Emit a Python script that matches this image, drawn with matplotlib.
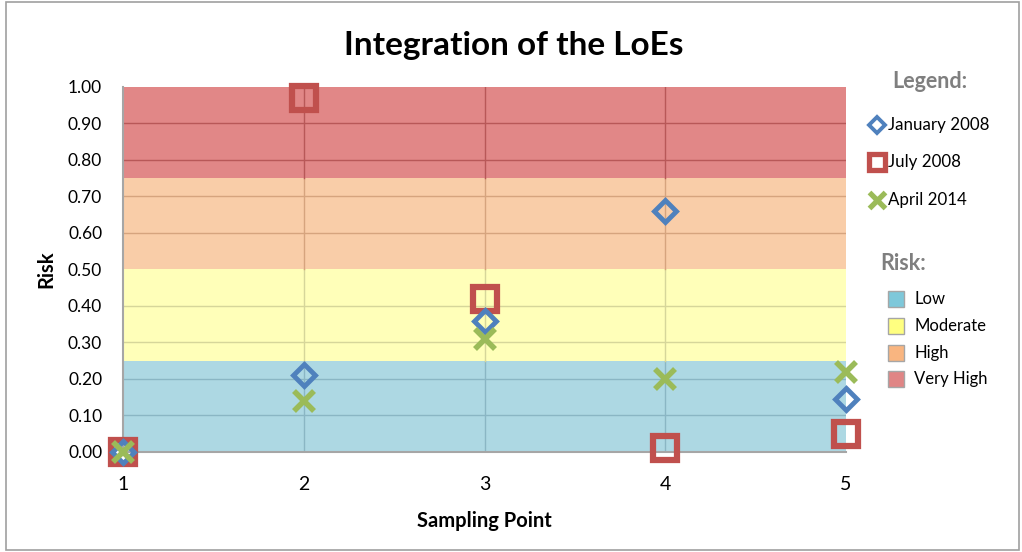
import matplotlib
matplotlib.use("Agg")
import matplotlib.pyplot as plt
from matplotlib.patches import Rectangle
from matplotlib.lines import Line2D
import numpy as np

plt.rcParams['font.family'] = ['Lato', 'DejaVu Sans']

sampling_points = [1, 2, 3, 4, 5]
jan_2008 = [0.00, 0.21, 0.36, 0.66, 0.145]
jul_2008 = [0.00, 0.97, 0.42, 0.01, 0.05]
apr_2014 = [0.00, 0.14, 0.31, 0.20, 0.22]

risk_levels = ["Low", "Moderate", "High", "Very High"]
risk_bounds = [0.0, 0.25, 0.50, 0.75, 1.00]
risk_colors = ["#7EC8DA", "#FFFF80", "#F9B580", "#E08585"]
risk_band_colors = ["#ADD8E3", "#FFFFB9", "#F9CDA8", "#E18787"]
risk_grid_colors = ["#8AB6C4", "#D6D69A", "#D6A47E", "#B85858"]

series_names = ["January 2008", "July 2008", "April 2014"]
series_colors = ["#4F81BD", "#C0504D", "#9BBB59"]

fig = plt.figure(figsize=(10.22, 5.52), dpi=100)
fig.patch.set_facecolor("white")
fig.add_artist(Rectangle((6 / 1022, 0.004), 1 - 9 / 1022, 0.992, transform=fig.transFigure,
                         fill=False, edgecolor="#A0A0A0", linewidth=1.2))

ax = fig.add_axes([0.1204, 0.1812, 0.7074, 0.6612])
ax.set_xlim(1, 5)
ax.set_ylim(0, 1)

yt = np.round(np.arange(0, 1.001, 0.1), 2)
for i in range(4):
    lo, hi = risk_bounds[i], risk_bounds[i + 1]
    ax.axhspan(lo, hi, color=risk_band_colors[i], zorder=1, lw=0)
    for y in yt:
        if lo < y < hi:
            ax.axhline(y, color=risk_grid_colors[i], lw=1, zorder=2)
    for x in [2, 3, 4]:
        ax.plot([x, x], [lo, hi], color=risk_grid_colors[i], lw=1, zorder=2)

ax.plot(sampling_points, jan_2008, linestyle="none", marker="D", markersize=11,
        markerfacecolor="none", markeredgecolor=series_colors[0], markeredgewidth=3.5,
        clip_on=False, zorder=5)
ax.plot(sampling_points, jul_2008, linestyle="none", marker="s", markersize=17,
        markerfacecolor="none", markeredgecolor=series_colors[1], markeredgewidth=4.5,
        clip_on=False, zorder=4)
ax.plot(sampling_points, apr_2014, linestyle="none", marker="x", markersize=15,
        markeredgecolor=series_colors[2], markeredgewidth=4,
        clip_on=False, zorder=6)

ax.set_yticks(yt)
ax.set_yticklabels([f"{v:.2f}" for v in yt], fontsize=12.5)
ax.set_xticks(sampling_points)
ax.set_xticklabels([str(v) for v in sampling_points], fontsize=14)
ax.tick_params(axis="both", length=0)
ax.tick_params(axis="x", pad=17)
ax.tick_params(axis="y", pad=15)
for s in ["top", "right"]:
    ax.spines[s].set_visible(False)
for s in ["left", "bottom"]:
    ax.spines[s].set_color("#A6A6A6")
    ax.spines[s].set_linewidth(1.5)
    ax.spines[s].set_zorder(3)

ax.set_xlabel("Sampling Point", fontsize=14.5, fontweight="bold", labelpad=13)
ax.set_ylabel("Risk", fontsize=14.5, fontweight="bold", labelpad=8)

fig.text(0.503, 0.918, "Integration of the LoEs", ha="center", va="center",
         fontsize=24, fontweight="bold")

# custom legend
fig.text(930 / 1022, 1 - 82 / 552, "Legend:", ha="center", va="center", fontsize=15.5,
         fontweight="bold", color="#7F7F7F")
leg_y = [125, 162, 200]
markers = [dict(marker="D", markersize=8, markerfacecolor="white", markeredgecolor=series_colors[0], markeredgewidth=2.8),
           dict(marker="s", markersize=11, markerfacecolor="white", markeredgecolor=series_colors[1], markeredgewidth=3.8),
           dict(marker="x", markersize=11, markeredgecolor=series_colors[2], markeredgewidth=3.8)]
for name, yp, mk in zip(series_names, leg_y, markers):
    fy = 1 - yp / 552
    fig.add_artist(Line2D([877 / 1022], [fy], transform=fig.transFigure, linestyle="none", **mk))
    fig.text(888 / 1022, fy, name, ha="left", va="center", fontsize=12.2)

fig.text(903 / 1022, 1 - 263 / 552, "Risk:", ha="center", va="center", fontsize=15.5,
         fontweight="bold", color="#7F7F7F")
sw_y = [299, 326, 353, 379]
for name, yp, c in zip(risk_levels, sw_y, risk_colors):
    fy = 1 - yp / 552
    fig.add_artist(Rectangle((888 / 1022, fy - 8 / 552), 16 / 1022, 16 / 552,
                             transform=fig.transFigure, facecolor=c,
                             edgecolor="#A6A6A6", linewidth=1))
    fig.text(914 / 1022, fy, name, ha="left", va="center", fontsize=12)

fig.savefig("out.png", dpi=100)
